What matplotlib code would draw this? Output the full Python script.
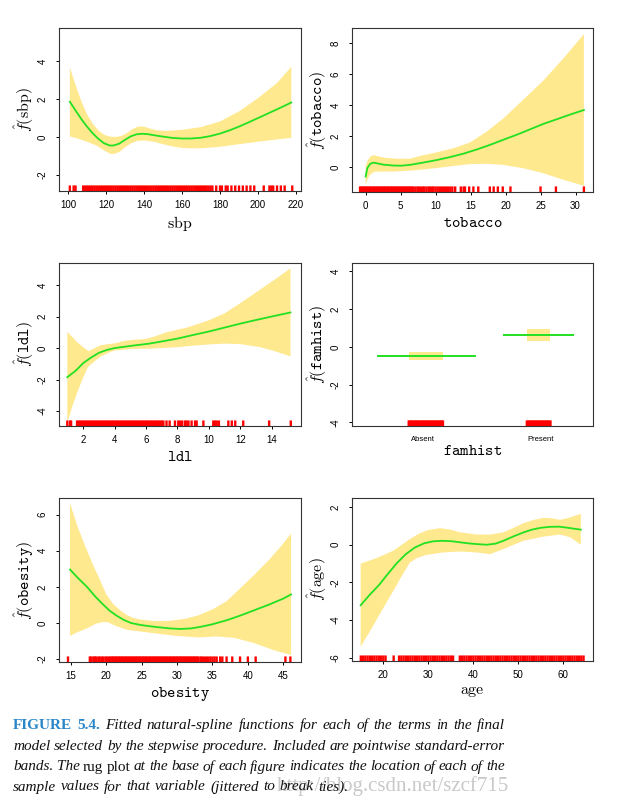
import matplotlib
matplotlib.use("Agg")
import matplotlib.pyplot as plt
import numpy as np

plt.rcParams["font.family"] = ["Liberation Sans", "DejaVu Sans"]
plt.rcParams["mathtext.fontset"] = "cm"
plt.rcParams["axes.unicode_minus"] = False

# ---- sbp ----
sbp_x = [101, 104, 107, 110, 113, 116, 119, 122, 124, 127, 130, 133, 136, 139, 142, 146, 150,
         155, 160, 165, 170, 175, 180, 185, 190, 195, 200, 205, 210, 214, 217.5]
sbp_f = [1.86, 1.4, 0.95, 0.55, 0.2, -0.1, -0.33, -0.45, -0.45, -0.35, -0.15, 0.03, 0.14, 0.17,
         0.15, 0.08, 0.02, -0.05, -0.08, -0.08, -0.04, 0.05, 0.18, 0.35, 0.55, 0.77, 1.0, 1.23,
         1.46, 1.65, 1.82]
sbp_up_x = [101, 104, 107, 110, 113, 116, 119, 122, 125, 128, 131, 134, 137, 140, 143, 147, 152,
            160, 170, 180, 190, 200, 210, 217.5]
sbp_up = [3.67, 2.75, 1.9, 1.2, 0.7, 0.35, 0.12, 0.02, 0.0, 0.05, 0.2, 0.42, 0.55, 0.55, 0.45,
          0.35, 0.32, 0.38, 0.52, 0.82, 1.35, 2.05, 2.85, 3.7]
sbp_lo_x = [101, 105, 110, 115, 119, 122, 124, 127, 130, 133, 136, 140, 145, 150, 155, 160, 165,
            170, 180, 190, 200, 210, 217.5]
sbp_lo = [0.03, -0.08, -0.25, -0.45, -0.7, -0.88, -0.9, -0.8, -0.55, -0.35, -0.22, -0.18, -0.25,
          -0.38, -0.5, -0.58, -0.6, -0.6, -0.52, -0.38, -0.25, -0.13, -0.05]
sbp_rug = [101, 103, 104,
           108, 109, 110, 111, 112, 113, 114, 115, 116, 117, 118, 119, 120, 121, 122, 123, 124,
           125, 126, 127, 128, 129, 130, 131, 132, 133, 134, 135, 136, 137, 138, 139, 140, 141,
           142, 143, 144, 145, 146, 147, 148, 149, 150, 151, 152, 153, 154, 155, 156, 157, 158,
           159, 160, 161, 162, 163, 164, 165, 166, 167, 168, 169, 170, 171, 172, 173, 174, 175,
           176, 178, 180, 181, 183, 184, 186, 188, 190, 192, 194, 196, 198, 203, 206, 207, 208,
           210, 212, 214, 218]

# ---- tobacco ----
tob_x = [0, 0.24, 0.62, 1.1, 1.57, 2.5, 4, 5.1, 6.3, 8.2, 10, 12, 14, 15.9, 17.8, 19.7, 21.6,
         23.5, 25.4, 27.3, 29.2, 31.2]
tob_f = [-0.6, -0.06, 0.21, 0.3, 0.26, 0.17, 0.11, 0.1, 0.15, 0.3, 0.45, 0.65, 0.88, 1.15, 1.45,
         1.78, 2.1, 2.45, 2.8, 3.1, 3.4, 3.7]
tob_up_x = [0, 0.3, 0.7, 1.2, 2, 3, 4.5, 6.3, 8, 10, 12.5, 14.9, 17.3, 19.7, 22.5, 25.4, 28.2, 31.2]
tob_up = [0.05, 0.45, 0.7, 0.78, 0.68, 0.6, 0.55, 0.55, 0.75, 0.95, 1.22, 1.6, 2.3, 3.16, 4.35,
          5.6, 7.0, 8.6]
tob_lo_x = [0, 0.3, 0.6, 1.2, 2, 4, 6.3, 8, 10, 12.5, 14.9, 17.3, 19.7, 22.5, 25.4, 28.2, 31.2]
tob_lo = [-1.14, -0.75, -0.5, -0.3, -0.28, -0.28, -0.22, -0.15, -0.06, 0.08, 0.2, 0.22, 0.15,
          -0.06, -0.39, -0.8, -1.2]
tob_rug = [-0.8, -0.6, -0.4, -0.2, 0.0, 0.2, 0.4, 0.6, 0.8, 1.0, 1.2, 1.4, 1.6, 1.8, 2.0, 2.2,
           2.4, 2.6, 2.8, 3.0, 3.2, 3.4, 3.6, 3.8, 4.0, 4.2, 4.4, 4.6, 4.8, 5.0, 5.2, 5.4, 5.6,
           5.8, 6.0, 6.2, 6.4, 6.6, 6.8, 7.1, 7.4, 7.6, 7.9, 8.2, 8.4, 8.7, 9.0, 9.2, 9.5, 9.7,
           10.0, 10.3, 10.6, 10.9, 11.2, 11.5, 11.8, 12.1, 12.4, 12.8, 13.6, 14.0, 14.2, 14.8,
           15.4, 16.1, 17.75, 18.3, 18.9, 19.6, 20.7, 25.0, 27.2, 31.2]

# ---- ldl ----
ldl_x = [0.98, 1.5, 2.0, 2.5, 3.0, 3.5, 4.0, 4.6, 5.2, 6.2, 7.0, 8.0, 9.0, 10.0, 11.0, 12.0, 13.0,
         14.0, 15.2]
ldl_f = [-1.85, -1.45, -0.95, -0.6, -0.3, -0.12, 0.0, 0.08, 0.16, 0.28, 0.42, 0.6, 0.83, 1.05,
         1.3, 1.55, 1.78, 2.0, 2.26]
ldl_up_x = [0.98, 1.3, 1.6, 2.0, 2.35, 2.7, 3.1, 3.6, 4.0, 4.6, 5.2, 6.0, 6.5, 7.3, 8.6, 9.96,
            11.0, 12.0, 13.25, 14.2, 15.2]
ldl_up = [1.02, 0.7, 0.38, 0.05, -0.2, -0.02, 0.18, 0.25, 0.3, 0.45, 0.52, 0.58, 0.72, 1.0, 1.3,
          1.75, 2.2, 2.85, 3.7, 4.35, 5.06]
ldl_lo_x = [0.98, 1.3, 1.6, 2.0, 2.3, 2.7, 3.1, 3.6, 4.0, 5.2, 6.2, 7.0, 8.0, 9.0, 10.0, 11.0,
            12.0, 13.25, 14.2, 15.2]
ldl_lo = [-4.72, -3.7, -2.85, -1.85, -1.2, -0.85, -0.55, -0.3, -0.15, -0.05, -0.04, 0.0, 0.05,
          0.15, 0.23, 0.28, 0.25, 0.06, -0.2, -0.53]
ldl_rug = [0.98, 1.15, 1.22,
           1.6, 1.7, 1.8, 1.9, 2.0, 2.1, 2.2, 2.3, 2.4, 2.5, 2.6, 2.7, 2.8, 2.9, 3.0, 3.1, 3.2,
           3.3, 3.4, 3.5, 3.6, 3.7, 3.8, 3.9, 4.0, 4.1, 4.2, 4.3, 4.4, 4.5, 4.6, 4.7, 4.8, 4.9,
           5.0, 5.1, 5.2, 5.3, 5.4, 5.5, 5.6, 5.7, 5.8, 5.9, 6.0, 6.1, 6.2, 6.3, 6.4, 6.5, 6.6,
           6.7, 6.8, 6.9, 7.0, 7.1, 7.3, 7.5, 7.84, 8.05, 8.16, 8.3, 8.48, 8.58, 8.7, 8.9, 9.12,
           9.22, 9.65, 10.28, 10.39, 10.5, 10.64, 11.24, 11.46, 11.68, 12.19, 13.84, 15.22]

# ---- famhist ----
fam_levels = ["Absent", "Present"]
fam_pos = [1, 2]
fam_f = [-0.48, 0.62]
fam_lo = [-0.69, 0.33]
fam_hi = [-0.25, 0.94]
fam_line_x0 = [0.61, 1.68]
fam_line_x1 = [1.45, 2.28]
fam_band_x0 = [0.88, 1.88]
fam_band_x1 = [1.17, 2.08]
fam_rug = [0.88, 0.89, 0.9, 0.91, 0.92, 0.93, 0.94, 0.95, 0.96, 0.97, 0.98, 0.99, 1.0, 1.01,
           1.02, 1.03, 1.04, 1.05, 1.06, 1.07, 1.08, 1.09, 1.1, 1.11, 1.12, 1.13, 1.14, 1.15,
           1.16, 1.17,
           1.88, 1.89, 1.9, 1.91, 1.92, 1.93, 1.94, 1.95, 1.96, 1.97, 1.98, 1.99, 2.0, 2.01,
           2.02, 2.03, 2.04, 2.05, 2.06, 2.07, 2.08]

# ---- obesity ----
obe_x = [14.9, 16, 17.3, 18.5, 19.5, 20.5, 21.5, 22.5, 23.5, 25, 27, 29, 30.5, 32, 33.5, 35, 37,
         39, 41, 43, 45, 46.1]
obe_f = [2.96, 2.5, 2.0, 1.45, 1.05, 0.68, 0.4, 0.17, 0.0, -0.12, -0.22, -0.3, -0.33, -0.3,
         -0.2, -0.07, 0.15, 0.42, 0.72, 1.02, 1.35, 1.58]
obe_up_x = [14.9, 16, 17, 18, 19, 20, 21, 22, 23, 24, 25, 27, 29, 31, 33, 35, 37, 39, 41, 43, 45,
            46.1]
obe_up = [6.65, 5.3, 4.3, 3.35, 2.5, 1.6, 1.05, 0.7, 0.42, 0.26, 0.18, 0.1, 0.12, 0.22, 0.42,
          0.75, 1.2, 1.95, 2.7, 3.5, 4.4, 4.95]
obe_lo_x = [14.9, 16, 17.3, 18.5, 19.5, 20.2, 21, 22, 23, 25, 27, 30, 33, 35.6, 38, 40.8, 43.6,
            46.1]
obe_lo = [-0.72, -0.5, -0.3, -0.05, 0.05, 0.05, -0.1, -0.25, -0.38, -0.48, -0.58, -0.72, -0.8,
          -0.75, -0.82, -1.1, -1.5, -1.77]
obe_rug = [14.62, 17.7, 17.9, 18.2, 18.4, 18.6, 18.9, 19.1, 19.4, 19.6, 19.9, 20.1,
           20.4, 20.6, 20.8, 21.0, 21.2, 21.4, 21.6, 21.8, 22.0, 22.2, 22.4, 22.6, 22.8, 23.0,
           23.2, 23.4, 23.6, 23.8, 24.0, 24.2, 24.4, 24.6, 24.8, 25.0, 25.2, 25.4, 25.6, 25.8,
           26.0, 26.2, 26.4, 26.6, 26.8, 27.0, 27.2, 27.4, 27.6, 27.8, 28.0, 28.2, 28.4, 28.6,
           28.8, 29.0, 29.2, 29.4, 29.6, 29.8, 30.0, 30.2, 30.4, 30.6, 30.8, 31.0, 31.2, 31.4,
           31.6, 31.8, 32.0, 32.2, 32.4, 32.6, 32.8,
           33.0, 33.3, 33.5, 33.8, 34.1, 34.4, 34.7, 35.0, 35.3, 35.6, 36.1, 36.4, 37.0, 37.8,
           38.9, 40.0, 41.1, 45.3, 46.0]

# ---- age ----
age_x = [14.96, 17, 19, 21, 23, 25, 27, 29, 31, 33, 35, 37, 39, 41, 43, 45, 47, 49, 51, 53, 55,
         57, 59, 61, 63, 63.9]
age_f = [-3.21, -2.65, -2.15, -1.55, -0.98, -0.5, -0.15, 0.07, 0.18, 0.21, 0.19, 0.13, 0.07,
         0.03, 0.0, 0.06, 0.24, 0.45, 0.64, 0.8, 0.9, 0.95, 0.96, 0.9, 0.83, 0.8]
age_up_x = [14.96, 18.5, 22.2, 25.9, 28, 30, 32.6, 35, 37, 40.7, 43.7, 46.7, 49, 51.1, 53.5, 55.6,
            57.5, 59.3, 61.5, 63.9]
age_up = [-1.0, -0.71, -0.32, 0.3, 0.6, 0.78, 0.88, 0.8, 0.66, 0.54, 0.54, 0.66, 0.9, 1.14,
          1.32, 1.43, 1.4, 1.32, 1.45, 1.64]
age_lo_x = [14.96, 17, 18.5, 20.5, 22.2, 24, 25.9, 27.5, 29.6, 33.3, 37, 40.7, 43.7, 46.7, 49,
            51.1, 55.6, 59.3, 61.5, 63.9]
age_lo = [-5.41, -4.6, -3.98, -3.15, -2.46, -1.7, -0.95, -0.7, -0.54, -0.41, -0.36, -0.41, -0.5,
          -0.23, 0.0, 0.21, 0.43, 0.54, 0.4, 0.0]
age_rug = [15.0, 15.5, 16.0, 16.5, 17.0, 17.5, 18.0, 18.5, 19.0, 19.5, 20.0, 20.5, 22.3,
           23.5, 24.0, 24.5, 25.0, 25.5, 26.0, 26.5, 27.0, 27.5, 28.0, 28.5, 29.0, 29.5, 30.0,
           30.5, 31.0, 31.5, 32.0, 32.5, 33.0, 33.5, 34.0, 34.5, 35.0, 35.5,
           37.0, 37.5, 38.0, 38.5, 39.0, 39.5, 40.0, 40.5, 41.0, 41.5, 42.0, 42.5, 43.0, 43.5,
           44.0, 44.5, 45.0, 45.5, 46.0, 46.5, 47.0, 47.5, 48.0, 48.5, 49.0, 49.5, 50.0, 50.5,
           51.0, 51.5, 52.0, 52.5, 53.0, 53.5, 54.0, 54.5, 55.0, 55.5, 56.0, 56.5, 57.0, 57.5,
           58.0, 58.5, 59.0, 59.5, 60.0, 60.5, 61.0, 61.5, 62.0, 62.5, 63.0, 63.5, 64.0, 64.5]

BAND = "#FFE98F"
GREEN = "#22E022"
RUG = "#FF0000"

fig = plt.figure(figsize=(6.25, 8.06), dpi=100)


def add_ax(l, t, r, b):
    return fig.add_axes([l / 625, 1 - b / 806, (r - l) / 625, (b - t) / 806])


def style(ax, xlim, ylim, xticks, yticks, xlabel, ylabel):
    ax.set_xlim(xlim)
    ax.set_ylim(ylim)
    ax.set_xticks(xticks)
    ax.set_yticks(yticks, [str(v) for v in yticks], rotation=90, va="center")
    ax.tick_params(direction="out", length=2.5, width=0.7, labelsize=7, colors="#000")
    ax.tick_params(axis="x", pad=4)
    ax.tick_params(axis="y", pad=5.5)
    for s in ax.spines.values():
        s.set_color("#333")
        s.set_linewidth(0.8)
    ax.set_xlabel(xlabel, fontsize=11.5, labelpad=3)
    ax.set_ylabel(ylabel, fontsize=11.5, labelpad=1.5)


def add_rug(ax, vals):
    ax.vlines(vals, 0, 0.034, transform=ax.get_xaxis_transform(), colors=RUG, lw=1.7,
              snap=False)


def spline_panel(ax, x, f, ux, up, lx, lo, rug):
    ax.fill(np.r_[ux, lx[::-1]], np.r_[up, lo[::-1]], color=BAND, lw=0)
    ax.plot(x, f, color=GREEN, lw=1.3)
    add_rug(ax, rug)


ax1 = add_ax(59, 28, 301, 191)
spline_panel(ax1, sbp_x, sbp_f, sbp_up_x, sbp_up, sbp_lo_x, sbp_lo, sbp_rug)
style(ax1, (95.3, 222.6), (-2.85, 5.75), [100, 120, 140, 160, 180, 200, 220], [-2, 0, 2, 4],
      r"$\mathrm{sbp}$", r"$\hat{f}(\mathrm{sbp})$")

ax2 = add_ax(352, 28, 593, 192)
spline_panel(ax2, tob_x, tob_f, tob_up_x, tob_up, tob_lo_x, tob_lo, tob_rug)
style(ax2, (-1.95, 32.5), (-1.6, 9.0), [0, 5, 10, 15, 20, 25, 30], [0, 2, 4, 6, 8],
      r"$\mathtt{tobacco}$", r"$\hat{f}(\mathtt{tobacco})$")

ax3 = add_ax(59, 263, 301, 426)
spline_panel(ax3, ldl_x, ldl_f, ldl_up_x, ldl_up, ldl_lo_x, ldl_lo, ldl_rug)
style(ax3, (0.45, 15.87), (-4.95, 5.4), [2, 4, 6, 8, 10, 12, 14], [-4, -2, 0, 2, 4],
      r"$\mathtt{ldl}$", r"$\hat{f}(\mathtt{ldl})$")

ax4 = add_ax(352, 263, 593, 426)
for i in range(2):
    ax4.fill_between([fam_band_x0[i], fam_band_x1[i]], fam_lo[i], fam_hi[i], color=BAND, lw=0)
    ax4.hlines(fam_f[i], fam_line_x0[i], fam_line_x1[i], color=GREEN, lw=1.4)
add_rug(ax4, fam_rug)
style(ax4, (0.40, 2.44), (-4.2, 4.45), fam_pos, [-4, -2, 0, 2, 4],
      r"$\mathtt{famhist}$", r"$\hat{f}(\mathtt{famhist})$")
ax4.set_xticks(fam_pos, fam_levels)
ax4.tick_params(axis="x", length=0, labelsize=5.5, pad=7)
ax4.xaxis.labelpad = 0

ax5 = add_ax(59, 498, 301, 662)
spline_panel(ax5, obe_x, obe_f, obe_up_x, obe_up, obe_lo_x, obe_lo, obe_rug)
style(ax5, (13.35, 47.5), (-2.16, 6.92), [15, 20, 25, 30, 35, 40, 45], [-2, 0, 2, 4, 6],
      r"$\mathtt{obesity}$", r"$\hat{f}(\mathtt{obesity})$")

ax6 = add_ax(352, 498, 593, 661)
spline_panel(ax6, age_x, age_f, age_up_x, age_up, age_lo_x, age_lo, age_rug)
style(ax6, (13.04, 66.6), (-6.17, 2.48), [20, 30, 40, 50, 60], [-6, -4, -2, 0, 2],
      r"$\mathrm{age}$", r"$\hat{f}(\mathrm{age})$")

# caption, justified between x=13 and x=505 px
cap_lines = ["FIGURE 5.4. Fitted natural-spline functions for each of the terms in the final",
             "model selected by the stepwise procedure. Included are pointwise standard-error",
             "bands. The rug plot at the base of each figure indicates the location of each of the",
             "sample values for that variable (jittered to break ties)."]
cap_base = [729, 750, 770.5, 790.5]
cap_bold = {(0, 0), (0, 1)}
cap_roman = {(2, 2), (2, 3)}

fig.text(277 / 625, 1 - 790.5 / 806, "http://blog.csdn.net/szcf715", color="#c9c9c9",
         fontsize=15, family="Liberation Serif", va="baseline", zorder=0)

renderer = fig.canvas.get_renderer()
cap_size = 11
for i, line in enumerate(cap_lines):
    words = line.split()
    objs = []
    for j, w in enumerate(words):
        kw = dict(family="Liberation Serif", fontsize=cap_size, va="baseline", zorder=2)
        if (i, j) in cap_bold:
            kw.update(weight="bold", color="#2a86c8")
        elif (i, j) in cap_roman:
            kw.update(color="#111")
        else:
            kw.update(style="italic", color="#111")
        objs.append(fig.text(0, 1 - cap_base[i] / 806, w, **kw))
    widths = [o.get_window_extent(renderer).width for o in objs]
    if i < len(cap_lines) - 1:
        gap = (505 - 13 - sum(widths)) / (len(words) - 1)
    else:
        gap = cap_size * 0.3 * 100 / 72
    x = 13
    for o, w in zip(objs, widths):
        o.set_x(x / 625)
        x += w + gap

fig.savefig("out.png", dpi=100)
